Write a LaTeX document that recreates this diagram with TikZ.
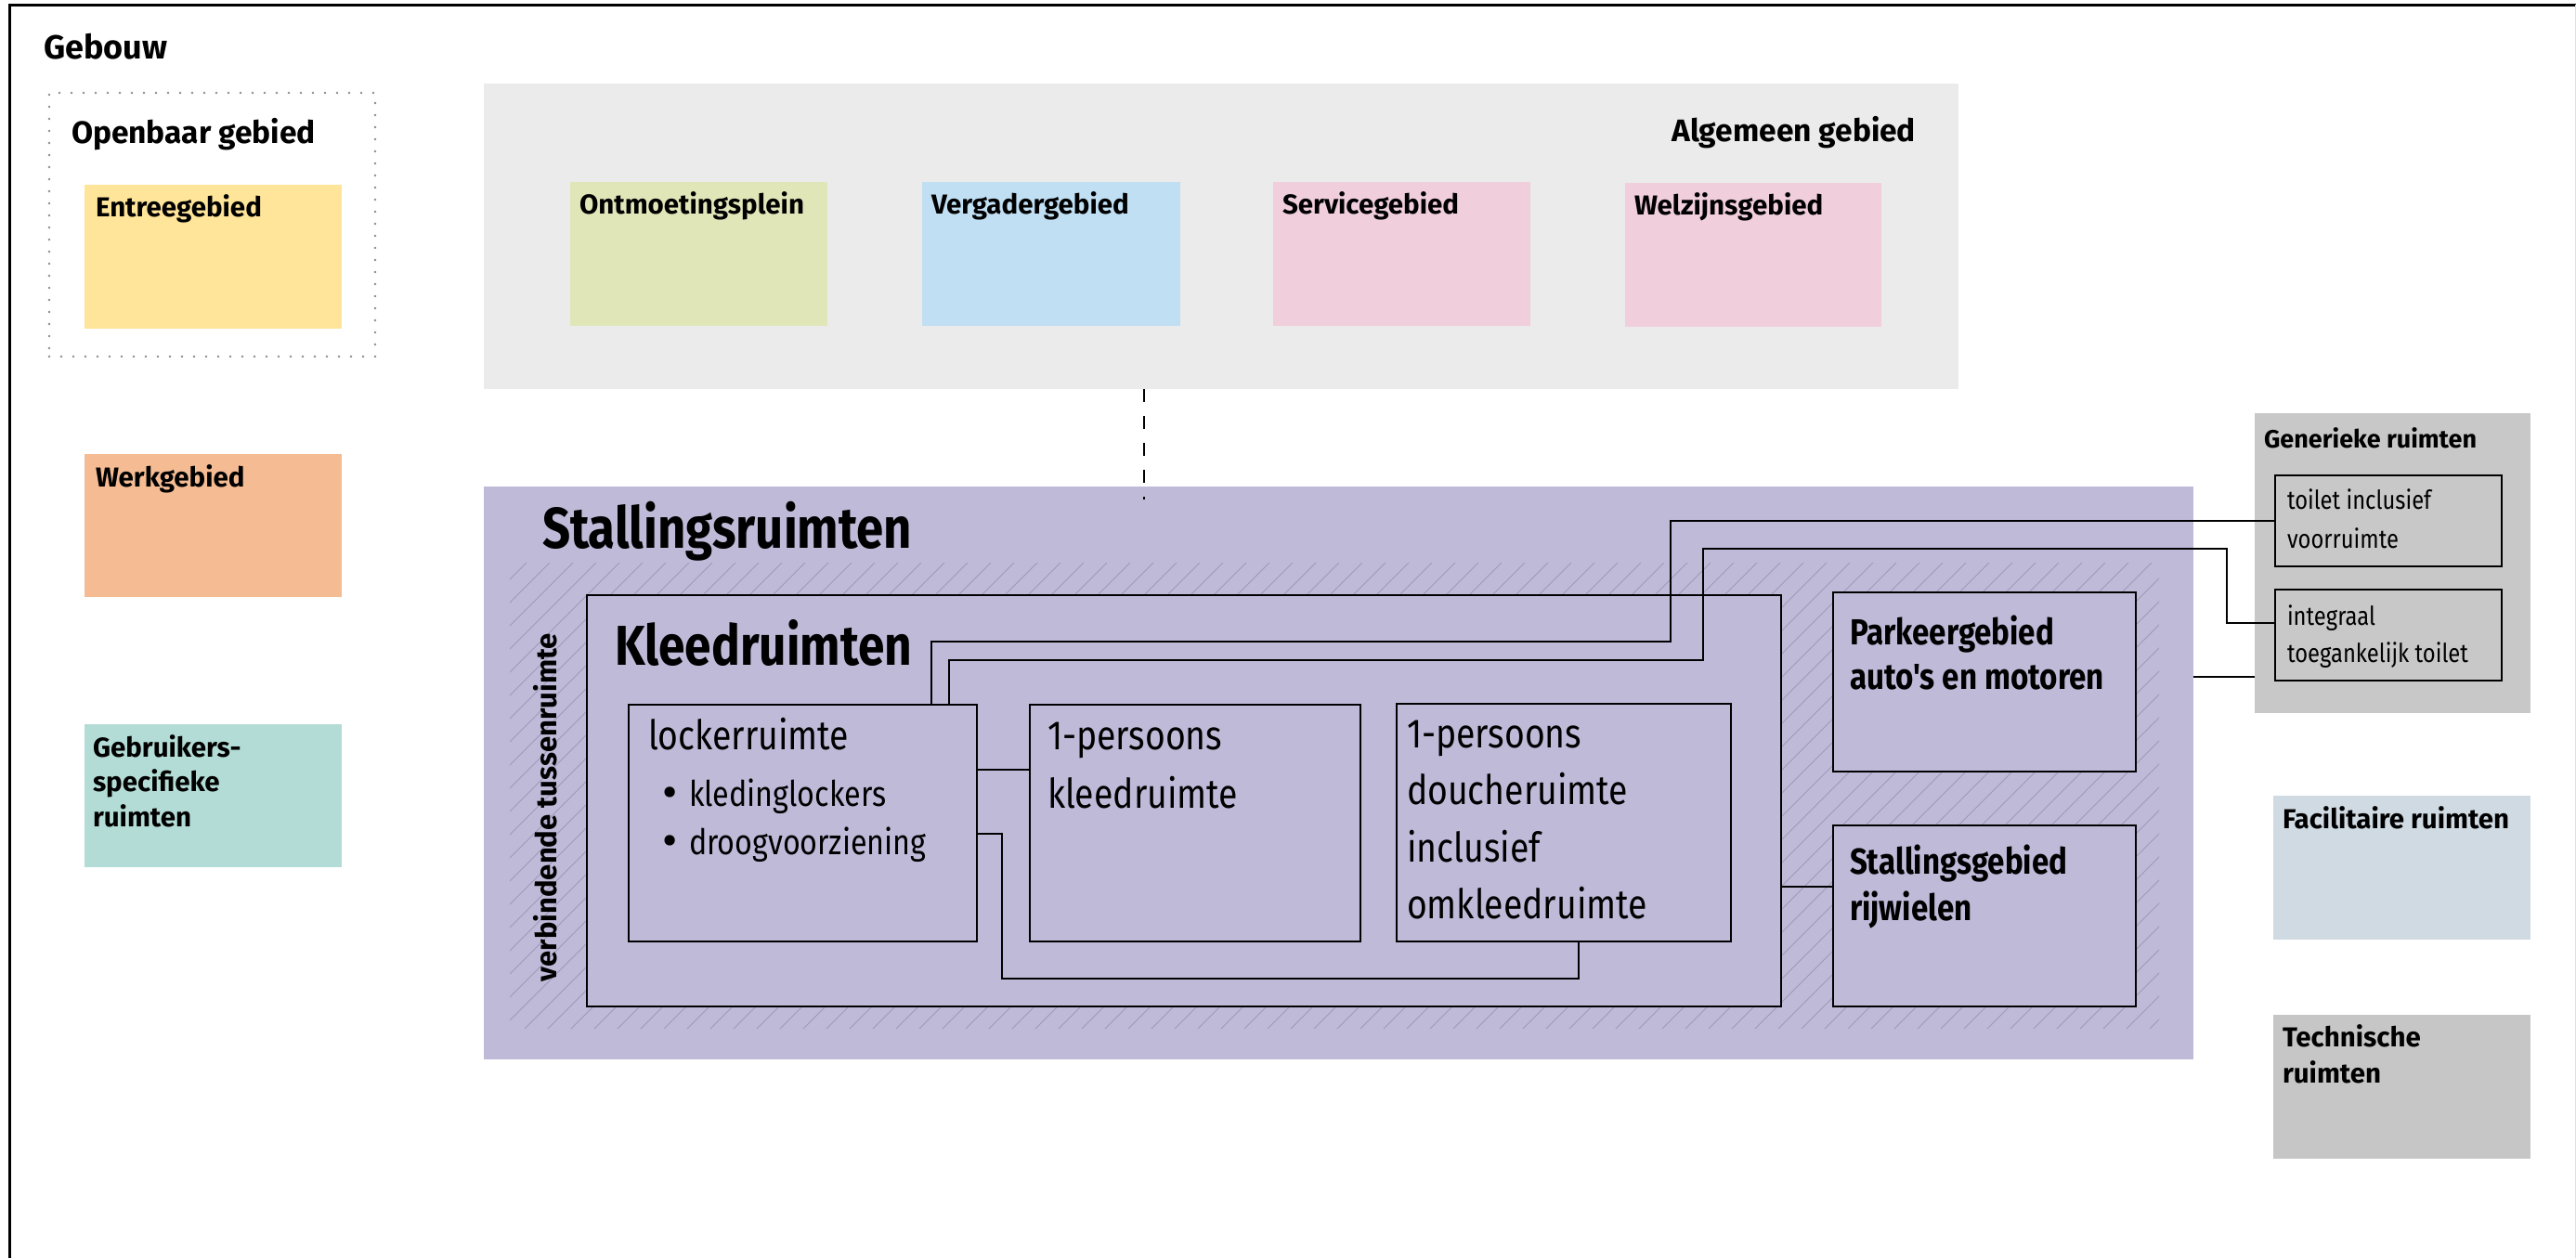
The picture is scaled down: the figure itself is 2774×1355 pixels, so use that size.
\documentclass[tikz,border=0pt]{standalone}
\usepackage{fontspec}
\setmainfont{Fira Sans}
\newfontfamily\cond[FakeStretch=0.85]{Fira Sans}
\usetikzlibrary{calc}
\definecolor{purp}{HTML}{C0BAD9}
\definecolor{hatchc}{HTML}{9F99B8}
\definecolor{algc}{HTML}{EBEBEB}
\definecolor{genc}{HTML}{C8C8C8}
\definecolor{techc}{HTML}{C6C6C6}
\definecolor{facc}{HTML}{D0DAE3}
\definecolor{entc}{HTML}{FFE599}
\definecolor{werkc}{HTML}{F5BC94}
\definecolor{gebrc}{HTML}{B3DCD6}
\definecolor{ontc}{HTML}{E1E6B9}
\definecolor{vergc}{HTML}{C0DFF3}
\definecolor{servc}{HTML}{F0CEDC}
\definecolor{dotc}{HTML}{8A8A8A}
\newcommand\fsz[1]{\fontsize{#1}{#1}\selectfont}
\newcommand\zone[6]{\node[#6, anchor=north west, inner sep=0pt, outer sep=0pt,
  minimum width={(#4-#2)*1pt}, minimum height={(#5-#3)*1pt}] (#1) at (#2,#3) {};}
\begin{document}
\begin{tikzpicture}[x=1pt,y=-1pt,
  txt/.style={inner sep=0pt, outer sep=0pt, anchor=base west, text=black},
  hd/.style={txt, font=\bfseries\fsz{29.5}},
  bod/.style={txt, font=\cond\fsz{44}},
  bul/.style={txt, font=\cond\fsz{38}},
  sml/.style={txt, font=\cond\fsz{28}},
  bigt/.style={txt, font=\cond\bfseries\fsz{39}},
  lined/.style={draw=black, line width=1.5pt},
  conn/.style={draw=black, line width=2.7pt},
  hatchl/.style={draw=hatchc, line width=1pt}]
\useasboundingbox (0,0) rectangle (2774,1355);
\fill[white] (0,0) rectangle (2774,1355);
% frame
\draw[line width=3pt] (10,1355) -- (10,5) -- (2774,5);
\draw[line width=1pt, black!12] (2773,5) -- (2773,1355);
\node[txt, font=\bfseries\fsz{36}] (gebouw) at (47,63) {Gebouw};

% Openbaar gebied
\zone{openb}{53}{100}{404}{384}{draw=dotc, line width=2.6pt, line cap=round, dash pattern=on 0pt off 13pt}
\node[txt, font=\bfseries\fsz{33.5}] (t-openb) at (77,154) {Openbaar gebied};
\zone{entree}{91}{199}{368}{354}{fill=entc}
\node[hd] (t-entree) at (103,233) {Entreegebied};
\zone{werk}{91}{489}{368}{643}{fill=werkc}
\node[hd] (t-werk) at (103,524) {Werkgebied};
\zone{gebr}{91}{780}{368}{934}{fill=gebrc}
\node[hd] (t-gebr1) at (100,815) {Gebruikers-};
\node[hd] (t-gebr2) at (100,852) {specifieke};
\node[hd] (t-gebr3) at (100,890) {ruimten};

% Algemeen gebied
\zone{alg}{521}{90}{2109}{419}{fill=algc}
\node[txt, font=\bfseries\fsz{33.5}, anchor=base east] (t-alg) at (2063,152) {Algemeen gebied};
\zone{ontm}{614}{196}{891}{351}{fill=ontc}
\node[hd] (t-ontm) at (624,230) {Ontmoetingsplein};
\zone{verg}{993}{196}{1271}{351}{fill=vergc}
\node[hd] (t-verg) at (1003,230) {Vergadergebied};
\zone{serv}{1371}{196}{1648}{351}{fill=servc}
\node[hd] (t-serv) at (1381,230) {Servicegebied};
\zone{welz}{1750}{197}{2026}{352}{fill=servc}
\node[hd] (t-welz) at (1760,231) {Welzijnsgebied};

% Stallingsruimten
\zone{stall}{521}{524}{2362}{1141}{fill=purp}
\begin{scope}
\clip (549,606) rectangle (2325,1108);
\foreach \i in {40,65,...,2330} {\draw[hatchl] (\i,1108) -- ++(502,-502);}
\end{scope}
\node[txt, font=\cond\bfseries\fsz{62}] (t-stall) at (584,590) {Stallingsruimten};
\node[txt, font=\bfseries\fsz{31}, rotate=90] (t-verb) at (599,1057) {verbindende tussenruimte};

\zone{kleed}{632}{641}{1918}{1084}{fill=purp, lined}
\node[txt, font=\cond\bfseries\fsz{60.5}] (t-kleed) at (662,716) {Kleedruimten};

\zone{locker}{677}{759}{1052}{1014}{lined}
\node[bod] (t-lock) at (698,807) {lockerruimte};
\node[txt, font=\fsz{50}] (b1) at (713,870) {\textbullet};
\node[bul] (t-kled) at (742,868) {kledinglockers};
\node[txt, font=\fsz{50}] (b2) at (713,922) {\textbullet};
\node[bul] (t-droog) at (742,920) {droogvoorziening};

\zone{kl1}{1109}{759}{1465}{1014}{lined}
\node[bod] (t-kl1a) at (1128,807) {1-persoons};
\node[bod] (t-kl1b) at (1128,870) {kleedruimte};

\zone{douche}{1504}{758}{1864}{1014}{lined}
\node[bod] (t-d1) at (1515,805) {1-persoons};
\node[bod] (t-d2) at (1515,866) {doucheruimte};
\node[bod] (t-d3) at (1515,928) {inclusief};
\node[bod] (t-d4) at (1515,989) {omkleedruimte};

\zone{parkeer}{1974}{638}{2300}{831}{fill=purp, lined}
\node[bigt] (t-p1) at (1992,694) {Parkeergebied};
\node[bigt] (t-p2) at (1992,742) {auto's en motoren};

\zone{stgeb}{1974}{889}{2300}{1084}{fill=purp, lined}
\node[bigt] (t-s1) at (1992,941) {Stallingsgebied};
\node[bigt] (t-s2) at (1992,991) {rijwielen};

% right column
\zone{gen}{2428}{445}{2725}{768}{fill=genc}
\node[txt, font=\bfseries\fsz{27}] (t-gen) at (2438,482) {Generieke ruimten};
\zone{toilet}{2450}{512}{2694}{610}{lined}
\node[sml] (t-toi1) at (2463,548) {toilet inclusief};
\node[sml] (t-toi2) at (2463,590) {voorruimte};
\zone{integ}{2450}{635}{2694}{733}{lined}
\node[sml] (t-int1) at (2463,673) {integraal};
\node[sml] (t-int2) at (2463,713) {toegankelijk toilet};

\zone{facil}{2448}{857}{2725}{1012}{fill=facc}
\node[hd] (t-facil) at (2458,892) {Facilitaire ruimten};
\zone{tech}{2448}{1093}{2725}{1248}{fill=techc}
\node[hd] (t-tech1) at (2458,1127) {Technische};
\node[hd] (t-tech2) at (2458,1166) {ruimten};

% connector helper coordinates
\coordinate (a0) at (1003,0);
\coordinate (a1) at (1799,691);
\coordinate (b0) at (1022,0);
\coordinate (b1) at (1834,711);
\coordinate (b2) at (2398,591);
\coordinate (b3) at (0,671);
\coordinate (c0) at (0,729);
\coordinate (d0) at (0,829);
\coordinate (e0) at (0,898);
\coordinate (e1) at (1079,1054);
\coordinate (e2) at (1700,0);
\coordinate (f0) at (0,955);
\coordinate (g0) at (1232,0);
\coordinate (g1) at (1232,538);

% connectors
\draw[line width=2pt, dash pattern=on 14pt off 15pt] (alg.south -| g0) -- (g1);
\draw[conn] (locker.north -| a0) |- (a1) |- (toilet.west);
\draw[conn] (locker.north -| b0) |- (b1) |- (b2) |- (integ.west |- b3);
\draw[conn] (stall.east |- c0) -- (gen.west |- c0);
\draw[conn] (locker.east |- d0) -- (kl1.west |- d0);
\draw[conn] (locker.east |- e0) -| (e1) -| (douche.south -| e2);
\draw[conn] (kleed.east |- f0) -- (stgeb.west |- f0);
\end{tikzpicture}
\end{document}
